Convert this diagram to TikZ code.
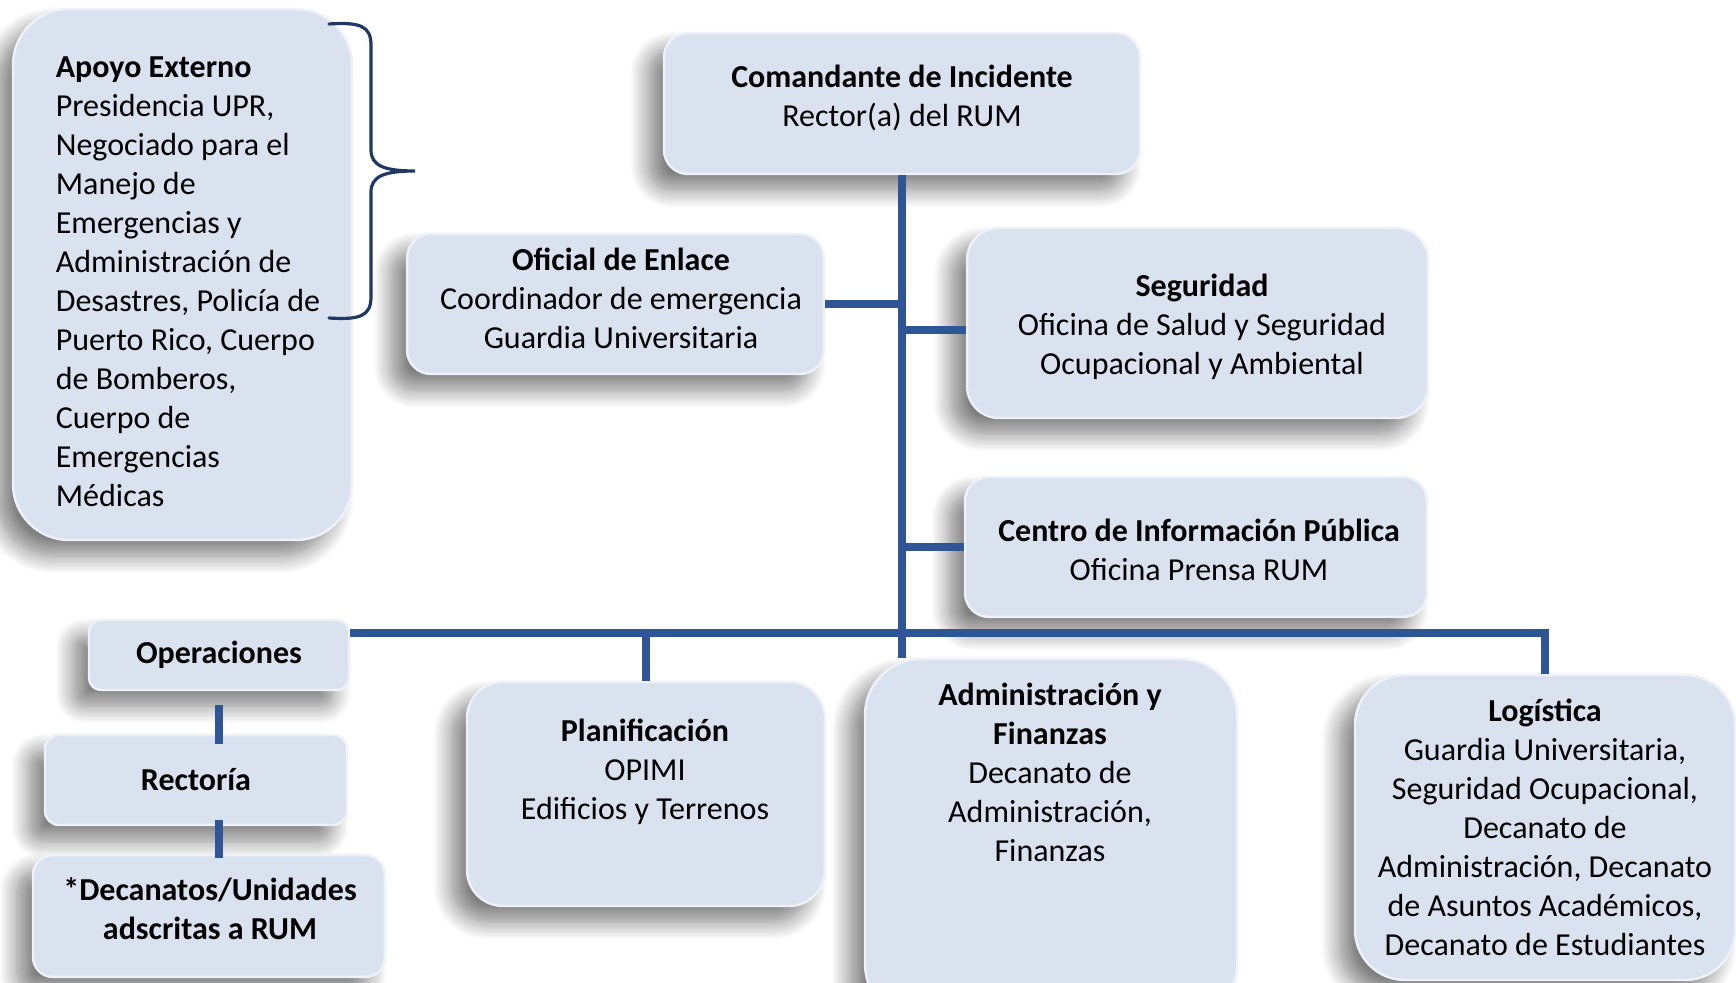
\documentclass[tikz,border=0pt]{standalone}
\usepackage{fontspec}
\setmainfont{Carlito}
\usetikzlibrary{positioning,calc,shadows.blur}
\definecolor{boxfill}{RGB}{218,226,240}
\definecolor{linkblue}{RGB}{47,85,151}
\definecolor{bracenavy}{RGB}{31,56,100}
\tikzset{
  box/.style={rectangle, fill=boxfill, draw=white!55!boxfill, line width=1.2pt,
    rounded corners=#1, inner sep=0pt, align=center,
    font=\fontsize{16}{19.5}\selectfont,
    blur shadow={shadow xshift=-8pt, shadow yshift=-8pt, shadow blur radius=9pt,
      shadow blur steps=14, shadow opacity=50}},
  box/.default=12pt,
  boxtext/.style={align=center, inner sep=0pt, font=\fontsize{16}{19.5}\selectfont},
  link/.style={draw=linkblue, line width=3.8pt},
  brace/.style={draw=bracenavy, line width=1.6pt, line cap=round}
}

\begin{document}
\begin{tikzpicture}[x=0.5pt, y=-0.5pt]
\useasboundingbox (0,0) rectangle (1736,983);

% --- Apoyo externo y su llave ---
\node[box=28pt, minimum width=169.5pt, minimum height=265.5pt] (apoyo) at (182.5,274.5) {};
\node[boxtext, align=left] (apoyoText) at (188,282)
  {\textbf{Apoyo Externo}\\Presidencia UPR,\\Negociado para el\\Manejo de\\Emergencias y\\Administración de\\Desastres, Policía de\\Puerto Rico, Cuerpo\\de Bomberos,\\Cuerpo de\\Emergencias\\Médicas};
\draw[brace] (329,24) .. controls (360,22) and (371,26) .. (371,45) -- (371,150)
  .. controls (371,166) and (385,171) .. (415,171)
  .. controls (385,171) and (371,176) .. (371,192) -- (371,297)
  .. controls (371,316) and (360,320) .. (329,318);

% --- Mando ---
\node[box, minimum width=238pt, minimum height=70.5pt] (cmd) at (902,103.5) {};
\node[boxtext] (cmdText) at (902,97.5) {\textbf{Comandante de Incidente}\\Rector(a) del RUM};
\node[box, minimum width=208.5pt, minimum height=70pt] (enlace) at (615.5,304) {};
\node[boxtext] (enlaceText) at (621,298)
  {\textbf{Oficial de Enlace}\\Coordinador de emergencia\\Guardia Universitaria};
\node[box=16pt, minimum width=230.5pt, minimum height=95pt] (seg) at (1197.5,323) {};
\node[boxtext] (segText) at (1202,326.5)
  {\textbf{Seguridad}\\Oficina de Salud y Seguridad\\Ocupacional y Ambiental};
\node[box, minimum width=231pt, minimum height=70pt] (prensa) at (1196,547) {};
\node[boxtext] (prensaText) at (1199,550)
  {\textbf{Centro de Información Pública}\\Oficina Prensa RUM};

% --- Secciones ---
\node[box=6pt, minimum width=130pt, minimum height=35pt] (ope) at (219,655) {\textbf{Operaciones}};
\node[box=7pt, minimum width=151pt, minimum height=45pt] (rect) at (196,780) {\textbf{Rectoría}};
\node[box=10pt, minimum width=176pt, minimum height=61pt] (dec) at (209,916) {};
\node[boxtext] (decText) at (210,908.5) {\textbf{*Decanatos/Unidades}\\\textbf{adscritas a RUM}};

\node[box=18pt, minimum width=179pt, minimum height=112pt] (plan) at (646,794) {};
\node[boxtext] (planText) at (645,772) {\textbf{Planificación}\\OPIMI\\Edificios y Terrenos};

\node[box=28pt, minimum width=186pt, minimum height=180.5pt] (adm) at (1051,839.5) {};
\node[boxtext] (admText) at (1050,772.5)
  {\textbf{Administración y}\\\textbf{Finanzas}\\Decanato de\\Administración,\\Finanzas};

\node[box=25pt, minimum width=190pt, minimum height=152.5pt] (log) at (1545,827.5)
  {\textbf{Logística}\\Guardia Universitaria,\\Seguridad Ocupacional,\\Decanato de\\Administración, Decanato\\de Asuntos Académicos,\\Decanato de Estudiantes};

% --- Conectores ---
\coordinate (bar) at (901,633);
\draw[link] (cmd.south) -- (cmd.south |- adm.north);
\draw[link] (enlace.east) -- (enlace.east -| cmd.south);
\draw[link] (seg.west) ++(0,7) -- ($(seg.west -| cmd.south)+(0,7)$);
\draw[link] (prensa.west) -- (prensa.west -| cmd.south);
\draw[link] (ope.east |- bar) -- (bar -| log.north) -- (log.north);
\draw[link] (plan.north |- bar) -- (plan.north);
\draw[link] ([yshift=-7pt]ope.south) -- ([yshift=-5pt]ope.south |- rect.north);
\draw[link] ([yshift=3pt]ope.south |- rect.south) -- ([yshift=-2pt]ope.south |- dec.north);

\end{tikzpicture}
\end{document}
